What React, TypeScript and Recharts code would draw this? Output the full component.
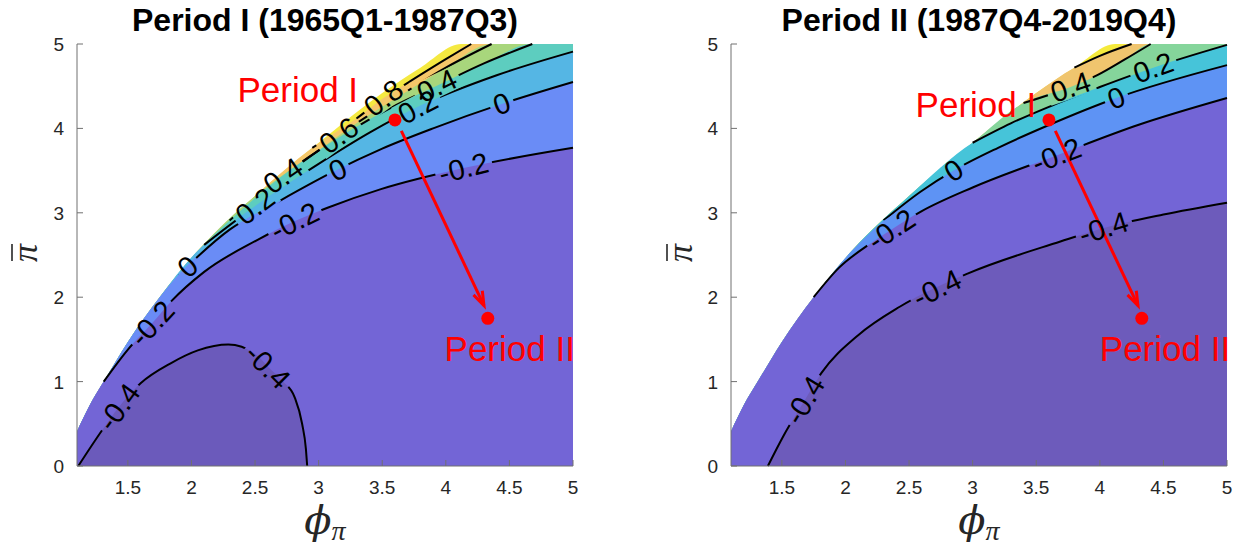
import React from 'react';
import { ComposedChart, Area, Line, Scatter, XAxis, YAxis } from 'recharts';

type Pt = { x: number; y: number };
const zip = (xs: number[], ys: number[]): Pt[] => xs.map((x, i) => ({ x, y: ys[i] }));

const X_TICKS = [1.5, 2, 2.5, 3, 3.5, 4, 4.5, 5];
const Y_TICKS = [0, 1, 2, 3, 4, 5];

// edge of the shaded region (same in both periods)
const EDGE_X = [1.1, 1.2, 1.31, 1.5, 1.75, 2.05, 2.5, 3.0, 3.5, 3.8, 4.12];
const EDGE_Y = [0.41, 0.72, 1.0, 1.47, 2.0, 2.55, 3.2, 3.83, 4.42, 4.72, 5.0];

// ---- Period I contours ----
const P1_LEVELS = ['0.8', '0.6', '0.4', '0.2', '0', '-0.2', '-0.4'];
const P1_C08_X = [2.95, 3.3, 3.51, 3.7, 4.0, 4.2];
const P1_C08_Y = [3.77, 4.12, 4.36, 4.54, 4.82, 5.0];
const P1_C06_X = [2.55, 3.0, 3.2, 3.6, 4.0, 4.36];
const P1_C06_Y = [3.26, 3.74, 3.96, 4.35, 4.72, 5.0];
const P1_C04_X = [2.3, 2.7, 3.2, 3.6, 3.95, 4.3, 4.68];
const P1_C04_Y = [2.91, 3.42, 3.93, 4.27, 4.52, 4.77, 5.0];
const P1_C02_X = [2.1, 2.52, 3.0, 3.4, 3.8, 4.4, 5.0];
const P1_C02_Y = [2.62, 3.1, 3.58, 3.95, 4.27, 4.63, 4.91];
const P1_C00_X = [1.9, 2.3, 2.68, 3.12, 3.5, 3.9, 4.44, 5.0];
const P1_C00_Y = [2.27, 2.8, 3.13, 3.49, 3.76, 4.0, 4.29, 4.55];
const P1_CM2_X = [1.31, 1.5, 1.69, 1.84, 2.1, 2.52, 2.81, 3.07, 3.49, 4.14, 5.0];
const P1_CM2_Y = [1.0, 1.38, 1.69, 1.95, 2.3, 2.68, 2.9, 3.06, 3.28, 3.53, 3.77];
const P1_CM4_X = [1.11, 1.3, 1.43, 1.6, 1.84, 2.05, 2.29, 2.5, 2.6, 2.72, 2.81, 2.87, 2.9, 2.91];
const P1_CM4_Y = [0, 0.43, 0.7, 0.98, 1.22, 1.37, 1.44, 1.33, 1.18, 1.0, 0.82, 0.5, 0.2, 0];
const P1_COLORS = ['#f5e941', '#f5c76a', '#a8d67c', '#5dcdbf', '#55b6e4', '#6a8cf6', '#7365d6', '#6b5abb'];
const P1_LABEL_LEVEL = ['0.8', '0.6', '0.4', '0.4', '0.2', '0.2', '0', '0', '0', '-0.2', '-0.2', '-0.2', '-0.4', '-0.4'];
const P1_LABEL_X = [3.51, 3.16, 2.72, 3.93, 2.5, 3.78, 1.97, 3.15, 4.44, 1.69, 2.81, 4.14, 1.43, 2.6];

// ---- Period II contours ----
const P2_LEVELS = ['0.6', '0.4', '0.2', '0', '-0.2', '-0.4'];
const P2_C06_X = [3.8, 4.0, 4.25];
const P2_C06_Y = [4.72, 4.86, 5.0];
const P2_C04_X = [3.4, 3.77, 3.98, 4.2, 4.4];
const P2_C04_Y = [4.3, 4.49, 4.63, 4.82, 5.0];
const P2_C02_X = [3.0, 3.3, 3.59, 4.0, 4.42, 5.0];
const P2_C02_Y = [3.83, 4.06, 4.25, 4.49, 4.72, 4.99];
const P2_C00_X = [2.3, 2.59, 2.85, 3.2, 3.6, 4.13, 5.0];
const P2_C00_Y = [2.91, 3.25, 3.5, 3.77, 4.04, 4.36, 4.75];
const P2_CM2_X = [1.75, 1.95, 2.2, 2.36, 2.6, 3.0, 3.66, 4.3, 5.0];
const P2_CM2_Y = [2.0, 2.35, 2.64, 2.8, 3.02, 3.3, 3.68, 4.04, 4.36];
const P2_CM4_X = [1.39, 1.51, 1.68, 1.81, 2.1, 2.43, 2.96, 3.69, 4.03, 4.5, 5.0];
const P2_CM4_Y = [0, 0.35, 0.78, 1.1, 1.55, 1.89, 2.28, 2.66, 2.82, 2.98, 3.12];
const P2_COLORS = ['#f5ea3c', '#f0c56e', '#85d59b', '#46c4d9', '#5e93f4', '#7365d6', '#6d5bbb'];
const P2_LABEL_LEVEL = ['0.4', '0.2', '0', '0', '-0.2', '-0.2', '-0.4', '-0.4', '-0.4'];
const P2_LABEL_X = [3.77, 4.42, 2.85, 4.13, 2.36, 3.66, 1.68, 2.72, 4.03];

// red markers and arrow (same in both panels)
const MARK_X = [3.6, 4.33];
const MARK_Y = [4.1, 1.75];
const ARROW_X = [3.65, 4.3];
const ARROW_Y = [3.97, 1.9];
// "Period I" / "Period II" text anchors
const P1_TEXT_X = [3.31, 3.99];
const P1_TEXT_Y = [4.31, 1.24];
const P2_TEXT_X = [3.5, 4.0];
const P2_TEXT_Y = [4.14, 1.24];
const TEXTS = ['Period I', 'Period II'];

const FONT = '"Liberation Sans", Arial, Helvetica, sans-serif';
const SERIF = '"DejaVu Serif", "Liberation Serif", serif';
const AXIS = '#707070';
const RED = '#ff0000';
const PT = 44;
const PB = 466;
const LABEL_FS = 29;
const TICK_FS = 19;

const CHAR_W: Record<string, number> = { '-': 0.333, '.': 0.278 };
const textWidth = (s: string) => s.split('').reduce((w, ch) => w + (CHAR_W[ch] ?? 0.556), 0) * LABEL_FS;

const fillCurve = (edge: Pt[], c: Pt[]): Pt[] => {
  const head = c[0].y > 0 ? edge.filter(p => p.x < c[0].x - 1e-6) : [];
  const last = c[c.length - 1];
  const tail = last.y >= 5 && last.x < 5 ? [{ x: 5, y: 5 }] : [];
  return [...head, ...c, ...tail];
};

const onCurve = (c: Pt[], x: number) => {
  for (let i = 0; i < c.length - 1; i++) {
    if (x >= c[i].x && x <= c[i + 1].x) {
      const s = (c[i + 1].y - c[i].y) / (c[i + 1].x - c[i].x);
      return { y: c[i].y + s * (x - c[i].x), s };
    }
  }
  return { y: c[c.length - 1].y, s: 0 };
};

interface PanelCfg {
  id: string;
  left: number;
  width: number;
  marginLeft: number;
  marginRight: number;
  levels: string[];
  contours: Pt[][];
  colors: string[];
  labelLevel: string[];
  labelX: number[];
  textX: number[];
  textY: number[];
}

function Panel({ cfg }: { cfg: PanelCfg }) {
  const PL = cfg.marginLeft + 40;
  const PR = cfg.width - cfg.marginRight;
  const pxX = (PR - PL) / 3.9;
  const pxY = (PB - PT) / 5;
  const edge = zip(EDGE_X, EDGE_Y);
  const fills = cfg.contours.map(c => fillCurve(edge, c));

  const labels = cfg.labelLevel.map((lv, i) => {
    const k = cfg.levels.indexOf(lv);
    const { y, s } = onCurve(cfg.contours[k], cfg.labelX[i]);
    const angle = (-Math.atan2(s * pxY, pxX) * 180) / Math.PI;
    return { x: cfg.labelX[i], y, text: lv, angle };
  });
  const marks = zip(MARK_X, MARK_Y);
  const arrow = zip(ARROW_X, ARROW_Y);
  const texts = zip(cfg.textX, cfg.textY).map((p, i) => ({ ...p, text: TEXTS[i], anchor: i === 0 ? 'end' : 'start' }));

  const ang = Math.atan2(-(ARROW_Y[1] - ARROW_Y[0]) * pxY, (ARROW_X[1] - ARROW_X[0]) * pxX);
  const maskId = `gap-${cfg.id}`;

  const labelShape = (p: any) => (
    <text
      x={p.cx}
      y={p.cy}
      transform={`rotate(${p.payload.angle} ${p.cx} ${p.cy})`}
      textAnchor="middle"
      dominantBaseline="central"
      fontSize={LABEL_FS}
      fontFamily={FONT}
      fill="#000"
    >
      {p.payload.text}
    </text>
  );

  const headDot = (p: any) => {
    if (p.index !== 1) return <g key={`t${p.index}`} />;
    const L = 15;
    const a1 = ang + 0.33;
    const a2 = ang - 0.33;
    const d = `M${p.cx - L * Math.cos(a1)},${p.cy - L * Math.sin(a1)} L${p.cx},${p.cy} L${p.cx - L * Math.cos(a2)},${p.cy - L * Math.sin(a2)}`;
    return <path key="head" d={d} stroke={RED} strokeWidth={3} fill="none" />;
  };

  const bottomTick = (p: any) => (
    <g>
      <line x1={p.x} x2={p.x} y1={PB} y2={PB - 6} stroke={AXIS} />
      <text x={p.x} y={PB + 28} textAnchor="middle" fontSize={TICK_FS} fontFamily={FONT} fill="#262626">
        {p.payload.value}
      </text>
    </g>
  );
  const leftTick = (p: any) => (
    <g>
      <line x1={PL} x2={PL + 6} y1={p.y} y2={p.y} stroke={AXIS} />
      <text x={PL - 13} y={p.y + 7} textAnchor="end" fontSize={TICK_FS} fontFamily={FONT} fill="#262626">
        {p.payload.value}
      </text>
    </g>
  );
  const topTick = (p: any) => <line x1={p.x} x2={p.x} y1={PT} y2={PT + 6} stroke={AXIS} />;
  const rightTick = (p: any) => <line x1={PR} x2={PR - 6} y1={p.y} y2={p.y} stroke={AXIS} />;

  return (
    <>
      <svg width={0} height={0} style={{ position: 'absolute', left: 0, top: 0 }}>
        <defs>
          <mask id={maskId} maskUnits="userSpaceOnUse" x={0} y={0} width={cfg.width} height={550}>
            <rect x={0} y={0} width={cfg.width} height={550} fill="#fff" />
            {labels.map((l, i) => {
              const cx = PL + (l.x - 1.1) * pxX;
              const cy = PB - l.y * pxY;
              const w = textWidth(l.text) + 8;
              const h = LABEL_FS * 0.8;
              return (
                <rect
                  key={i}
                  x={cx - w / 2}
                  y={cy - h / 2}
                  width={w}
                  height={h}
                  fill="#000"
                  transform={`rotate(${l.angle} ${cx} ${cy})`}
                />
              );
            })}
          </mask>
        </defs>
      </svg>
      <ComposedChart
        width={cfg.width}
        height={550}
        margin={{ top: PT, right: cfg.marginRight, bottom: 54, left: cfg.marginLeft }}
        style={{ position: 'absolute', left: cfg.left, top: 0 }}
      >
        <Area
          data={[...edge, { x: 5, y: 5 }]}
          dataKey="y"
          type="monotone"
          fill={cfg.colors[0]}
          fillOpacity={1}
          stroke="none"
          isAnimationActive={false}
        />
        {fills.map((f, i) => (
          <Area
            key={`f${i}`}
            data={f}
            dataKey="y"
            type="monotone"
            fill={cfg.colors[i + 1]}
            fillOpacity={1}
            stroke="none"
            isAnimationActive={false}
          />
        ))}
        {cfg.contours.map((c, i) => (
          <Line
            key={`c${i}`}
            data={c}
            dataKey="y"
            type="monotone"
            stroke="#000"
            strokeWidth={2}
            mask={`url(#${maskId})`}
            dot={false}
            activeDot={false}
            isAnimationActive={false}
          />
        ))}
        <Scatter data={labels} dataKey="y" shape={labelShape} isAnimationActive={false} />
        <Line
          data={arrow}
          dataKey="y"
          type="linear"
          stroke={RED}
          strokeWidth={3}
          dot={headDot}
          activeDot={false}
          isAnimationActive={false}
        />
        <Scatter
          data={marks}
          dataKey="y"
          shape={(p: any) => <circle cx={p.cx} cy={p.cy} r={6.5} fill={RED} />}
          isAnimationActive={false}
        />
        <Scatter
          data={texts}
          dataKey="y"
          shape={(p: any) => (
            <text x={p.cx} y={p.cy} textAnchor={p.payload.anchor} fontSize={35} fontFamily={FONT} fill={RED}>
              {p.payload.text}
            </text>
          )}
          isAnimationActive={false}
        />
        <XAxis
          type="number"
          dataKey="x"
          domain={[1.1, 5]}
          ticks={X_TICKS}
          height={30}
          tickLine={false}
          axisLine={{ stroke: AXIS }}
          tick={bottomTick}
          interval={0}
        />
        <YAxis
          type="number"
          dataKey="y"
          domain={[0, 5]}
          ticks={Y_TICKS}
          width={40}
          tickLine={false}
          axisLine={{ stroke: AXIS }}
          tick={leftTick}
          interval={0}
        />
        <XAxis
          xAxisId="top"
          orientation="top"
          type="number"
          domain={[1.1, 5]}
          ticks={X_TICKS}
          height={0}
          tickLine={false}
          axisLine={{ stroke: AXIS }}
          tick={topTick}
          interval={0}
          allowDataOverflow
        />
        <YAxis
          yAxisId="right"
          orientation="right"
          type="number"
          domain={[0, 5]}
          ticks={Y_TICKS}
          width={0}
          tickLine={false}
          axisLine={{ stroke: AXIS }}
          tick={rightTick}
          interval={0}
          allowDataOverflow
        />
      </ComposedChart>
    </>
  );
}

const PANEL1: PanelCfg = {
  id: 'p1',
  left: 0,
  width: 600,
  marginLeft: 37,
  marginRight: 27,
  levels: P1_LEVELS,
  contours: [
    zip(P1_C08_X, P1_C08_Y),
    zip(P1_C06_X, P1_C06_Y),
    zip(P1_C04_X, P1_C04_Y),
    zip(P1_C02_X, P1_C02_Y),
    zip(P1_C00_X, P1_C00_Y),
    zip(P1_CM2_X, P1_CM2_Y),
    zip(P1_CM4_X, P1_CM4_Y),
  ],
  colors: P1_COLORS,
  labelLevel: P1_LABEL_LEVEL,
  labelX: P1_LABEL_X,
  textX: P1_TEXT_X,
  textY: P1_TEXT_Y,
};

const PANEL2: PanelCfg = {
  id: 'p2',
  left: 651,
  width: 588,
  marginLeft: 40,
  marginRight: 12,
  levels: P2_LEVELS,
  contours: [
    zip(P2_C06_X, P2_C06_Y),
    zip(P2_C04_X, P2_C04_Y),
    zip(P2_C02_X, P2_C02_Y),
    zip(P2_C00_X, P2_C00_Y),
    zip(P2_CM2_X, P2_CM2_Y),
    zip(P2_CM4_X, P2_CM4_Y),
  ],
  colors: P2_COLORS,
  labelLevel: P2_LABEL_LEVEL,
  labelX: P2_LABEL_X,
  textX: P2_TEXT_X,
  textY: P2_TEXT_Y,
};

const PiBar = ({ x, y }: { x: number; y: number }) => (
  <g transform={`translate(${x},${y}) rotate(-90)`}>
    <text x={0} y={10} textAnchor="middle" fontSize={36} fontFamily='"Liberation Serif", serif' fontStyle="italic" fill="#262626">
      π
    </text>
    <line x1={-8} x2={9} y1={-15} y2={-15} stroke="#262626" strokeWidth={1.6} />
  </g>
);

const PhiPi = ({ x }: { x: number }) => (
  <text x={x} y={534} textAnchor="middle" fontSize={40} fontFamily={SERIF} fontStyle="italic" fill="#262626">
    ϕ
    <tspan fontSize={28} dy={6} fontFamily='"Liberation Serif", serif'>
      π
    </tspan>
  </text>
);

export default function App() {
  return (
    <div style={{ position: 'absolute', left: 0, top: 0, width: 1239, height: 550, background: '#fff' }}>
      <Panel cfg={PANEL1} />
      <Panel cfg={PANEL2} />
      <svg width={1239} height={550} style={{ position: 'absolute', left: 0, top: 0, pointerEvents: 'none' }}>
        <text x={325} y={31} textAnchor="middle" fontSize={32} fontWeight="bold" fontFamily={FONT} fill="#000">
          Period I (1965Q1-1987Q3)
        </text>
        <text x={979} y={31} textAnchor="middle" fontSize={32} fontWeight="bold" fontFamily={FONT} fill="#000">
          Period II (1987Q4-2019Q4)
        </text>
        <PhiPi x={325} />
        <PhiPi x={979} />
        <PiBar x={27} y={253} />
        <PiBar x={682} y={253} />
      </svg>
    </div>
  );
}
